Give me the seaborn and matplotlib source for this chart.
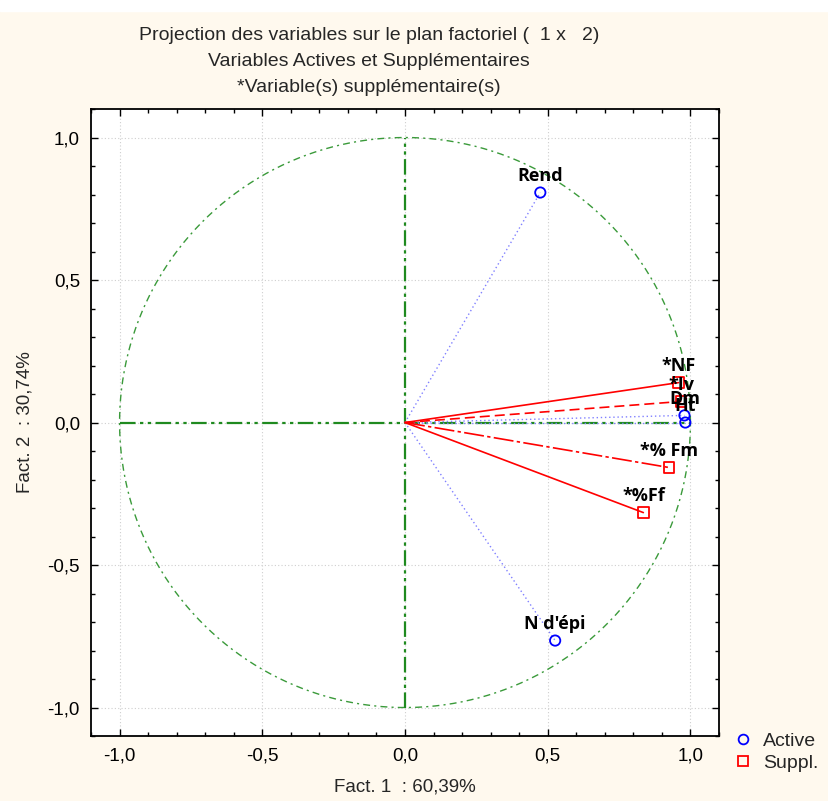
import numpy as np
import pandas as pd
import matplotlib
matplotlib.use("Agg")
import matplotlib.pyplot as plt
import seaborn as sns
from matplotlib.lines import Line2D
from matplotlib.patches import Rectangle
from matplotlib.ticker import MultipleLocator, FuncFormatter

# ── data ───────────────────────────────────────────────────
active_names = ["Rend", "N d'épi", "Dm", "Ht"]
active_f1 = [0.474, 0.526, 0.979, 0.982]
active_f2 = [0.807, -0.765, 0.025, 0.0]

supp_names = ["*NF", "*Iv", "*% Fm", "*%Ff"]
supp_f1 = [0.958, 0.968, 0.926, 0.835]
supp_f2 = [0.140, 0.074, -0.158, -0.316]
supp_styles = ["-", (0, (6, 3)), (0, (12, 2, 2, 2)), "-"]

xlabel = "Fact. 1  : 60,39%"
ylabel = "Fact. 2  : 30,74%"
title_lines = [
    "Projection des variables sur le plan factoriel (  1 x   2)",
    "Variables Actives et Supplémentaires",
    "*Variable(s) supplémentaire(s)",
]

active = pd.DataFrame({"f1": active_f1, "f2": active_f2, "name": active_names})
supp = pd.DataFrame({"f1": supp_f1, "f2": supp_f2, "name": supp_names})

# ── style ──────────────────────────────────────────────────
sns.set_style("ticks")
plt.rcParams["font.family"] = ["Liberation Sans", "DejaVu Sans"]
FS = 13.5

BG = "#FFF9EE"
fig = plt.figure(figsize=(8.29, 8.01), dpi=100, facecolor=BG)
fig.patches.append(Rectangle((0, 1 - 11 / 801), 1, 11 / 801,
                             transform=fig.transFigure, color="white", zorder=0))
ax = fig.add_axes([0.1098, 0.0811, 0.7575, 0.7828])
ax.set_facecolor("white")

# unit circle + axes through the origin
theta = np.linspace(0, 2 * np.pi, 400)
ax.plot(np.cos(theta), np.sin(theta), color="#3a9a3a", lw=1.0,
        linestyle=(0, (5, 3, 1.5, 3)), zorder=2)
green_dash = (0, (7, 2, 1.5, 2, 1.5, 2))
ax.plot([-1, 1], [0, 0], color="#1f8a1f", lw=1.6, linestyle=green_dash, zorder=2)
ax.plot([0, 0], [-1, 1], color="#1f8a1f", lw=1.6, linestyle=green_dash, zorder=2)

# vectors
for x, y in zip(active_f1, active_f2):
    ax.plot([0, x], [0, y], color="#8080ff", lw=1.0, linestyle=(0, (1, 2)), zorder=3)
for x, y, ls in zip(supp_f1, supp_f2, supp_styles):
    ax.plot([0, x], [0, y], color="red", lw=1.2, linestyle=ls, zorder=3)

# points
sns.scatterplot(data=active, x="f1", y="f2", marker="o", s=55, color="blue",
                linewidth=1.3, ax=ax, zorder=5)
ax.collections[-1].set_facecolor("none")
ax.collections[-1].set_edgecolor("blue")
sns.scatterplot(data=supp, x="f1", y="f2", marker="s", s=55, color="red",
                linewidth=1.3, ax=ax, zorder=5)
ax.collections[-1].set_facecolor("none")
ax.collections[-1].set_edgecolor("red")

# point labels (centered above the marker, overlapping like the original)
for df in (active, supp):
    for _, r in df.iterrows():
        ax.annotate(r["name"], (r["f1"], r["f2"]), xytext=(0, 12),
                    textcoords="offset points", ha="center", va="center",
                    fontsize=13, fontweight="bold", family="Open Sans",
                    color="black", zorder=6)

# axes, ticks, grid
ax.set_xlim(-1.1, 1.1)
ax.set_ylim(-1.1, 1.1)
ax.xaxis.set_major_locator(MultipleLocator(0.5))
ax.yaxis.set_major_locator(MultipleLocator(0.5))
ax.xaxis.set_minor_locator(MultipleLocator(0.1))
ax.yaxis.set_minor_locator(MultipleLocator(0.1))
comma = FuncFormatter(lambda v, p: f"{v:.1f}".replace(".", ",").replace("-0,0", "0,0"))
ax.xaxis.set_major_formatter(comma)
ax.yaxis.set_major_formatter(comma)
ax.tick_params(which="both", direction="in", top=True, right=True,
               labelsize=FS, colors="black", width=1.0)
ax.tick_params(which="major", length=5, pad=8)
ax.tick_params(which="minor", length=3)
ax.grid(True, which="major", color="#cfcfcf", linestyle=(0, (1, 2)), lw=0.8, zorder=0)
for sp in ax.spines.values():
    sp.set_linewidth(1.3)
    sp.set_color("black")

ax.set_xlabel(xlabel, fontsize=FS, labelpad=10)
ax.set_ylabel(ylabel, fontsize=FS, labelpad=10)

for i, line in enumerate(title_lines):
    fig.text(369 / 829, 1 - (35 + 26 * i) / 801, line, ha="center", va="center",
             fontsize=14)

# legend
handles = [
    Line2D([], [], marker="o", linestyle="none", markerfacecolor="none",
           markeredgecolor="blue", markersize=7, markeredgewidth=1.3, label="Active"),
    Line2D([], [], marker="s", linestyle="none", markerfacecolor="none",
           markeredgecolor="red", markersize=7, markeredgewidth=1.3, label="Suppl."),
]
fig.legend(handles=handles, loc="center left", bbox_to_anchor=(726 / 829, 1 - 752 / 801),
           frameon=False, fontsize=14, handletextpad=0.5, labelspacing=0.2,
           handlelength=1.0, borderaxespad=0)

fig.savefig("out.png", dpi=100, facecolor=BG)
